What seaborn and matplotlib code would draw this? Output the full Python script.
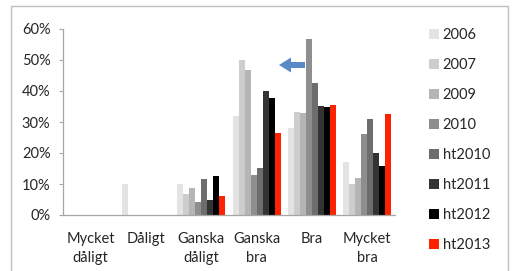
import numpy as np
import matplotlib
matplotlib.use("Agg")
import matplotlib.pyplot as plt
from matplotlib.patches import FancyArrow
from matplotlib.lines import Line2D
import matplotlib.ticker as mticker
import pandas as pd
import seaborn as sns

categories = ["Mycket\ndåligt", "Dåligt", "Ganska\ndåligt", "Ganska\nbra", "Bra", "Mycket\nbra"]
years = ["2006", "2007", "2009", "2010", "ht2010", "ht2011", "ht2012", "ht2013"]

# shares per year, one value per category (0..1)
v2006 = [0.0, 0.10, 0.100, 0.320, 0.282, 0.170]
v2007 = [0.0, 0.0, 0.067, 0.500, 0.333, 0.100]
v2009 = [0.0, 0.0, 0.087, 0.468, 0.328, 0.118]
v2010 = [0.0, 0.0, 0.043, 0.130, 0.567, 0.261]
vht2010 = [0.0, 0.0, 0.115, 0.153, 0.425, 0.310]
vht2011 = [0.0, 0.0, 0.050, 0.400, 0.352, 0.199]
vht2012 = [0.0, 0.0, 0.127, 0.378, 0.347, 0.159]
vht2013 = [0.0, 0.0, 0.060, 0.265, 0.355, 0.325]

colors = ["#E3E3E3", "#CDCDCD", "#B5B5B5", "#8E8E8E", "#6D6D6D", "#333333", "#000000", "#FF2200"]

series = [v2006, v2007, v2009, v2010, vht2010, vht2011, vht2012, vht2013]
rows = []
for yr, vals in zip(years, series):
    for cat, v in zip(categories, vals):
        rows.append({"cat": cat, "year": yr, "share": v})
df = pd.DataFrame(rows)

sns.set_style("white")
plt.rcParams['font.family'] = ['Lato', 'DejaVu Sans']

fig = plt.figure(figsize=(5.15, 2.71), dpi=100)
ax = fig.add_axes([63/515, 1 - 215/271, 332/515, (215 - 29)/271])

sns.barplot(data=df, x="cat", y="share", hue="year", order=categories, hue_order=years,
            palette=colors, width=0.87, gap=0, saturation=1, ax=ax, legend=False,
            linewidth=0, errorbar=None)

ax.set_ylim(0, 0.6)
ax.set_xlim(-0.5, 5.5)
ax.yaxis.set_major_locator(mticker.MultipleLocator(0.1))
ax.yaxis.set_major_formatter(mticker.FuncFormatter(lambda v, p: f"{v*100:.0f}%"))
ax.set_xlabel("")
ax.set_ylabel("")
for s in ["top", "right"]:
    ax.spines[s].set_visible(False)
for s in ["left", "bottom"]:
    ax.spines[s].set_color("#A6A6A6")
    ax.spines[s].set_linewidth(0.9)
ax.tick_params(axis="y", length=3, width=0.8, color="#A6A6A6", pad=6, labelsize=10.5, left=True)
ax.tick_params(axis="x", length=0, pad=12, labelsize=10.5)
for t in ax.get_xticklabels():
    t.set_linespacing(1.45)

handles = [Line2D([], [], marker="s", linestyle="", markersize=7, markerfacecolor=c,
                  markeredgewidth=0) for c in colors]
fig.legend(handles, years, loc="upper left", bbox_to_anchor=(0.82, 0.925), frameon=False,
           fontsize=10.5, labelspacing=1.1, handlelength=0.6, handletextpad=0.3, borderpad=0)

# chart frame
fr = dict(color="#BFBFBF", linewidth=1.0, transform=fig.transFigure)
fig.add_artist(Line2D([11/515, 11/515], [0, 1 - 5.5/271], **fr))
fig.add_artist(Line2D([11/515, 508/515], [1 - 5.5/271, 1 - 5.5/271], **fr))
fig.add_artist(Line2D([508/515, 508/515], [0, 1 - 5.5/271], **fr))

# blue arrow pointing left
arr = FancyArrow(305/515, 1 - 65/271, -26/515, 0, width=6/271, head_width=15/271,
                 head_length=12/515, length_includes_head=True, color="#5A8AC6",
                 transform=fig.transFigure, linewidth=0)
fig.add_artist(arr)

fig.savefig("out.png", dpi=100)
